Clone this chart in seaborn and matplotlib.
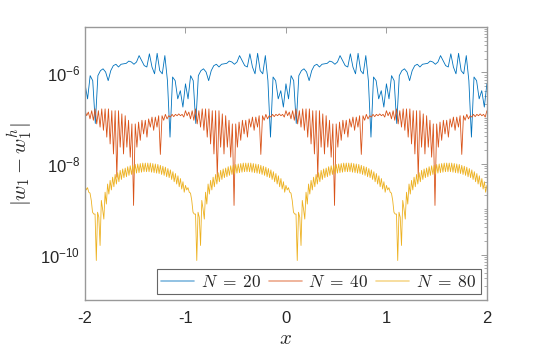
import matplotlib
matplotlib.use("Agg")
import matplotlib.pyplot as plt
import matplotlib.ticker as mticker
import seaborn as sns
import numpy as np
import pandas as pd

# log10 of the error over one period (x from -2 to -1);
# the reference repeats the same pattern with period 1 over [-2, 2]
period_n20 = [-6.25, -6.58, -6.07, -6.18, -7.12, -6.07, -5.96, -5.92, -5.99, -6.18,
              -5.96, -5.85, -5.82, -5.88, -5.82, -5.81, -5.80, -5.75, -5.77, -5.82,
              -5.77, -5.63, -5.74, -5.85, -5.88, -5.59, -5.88, -6.03, -5.58, -5.96,
              -6.03, -5.63, -6.18, -7.42, -6.10, -6.18, -6.58, -6.40, -6.76]

period_n40 = [-6.84, -6.95, -6.87, -7.02, -6.84, -7.05, -6.80, -7.13, -6.84, -7.20,
              -6.80, -7.27, -6.80, -7.42, -6.80, -7.57, -6.84, -7.79, -6.84, -8.30,
              -6.84, -7.64, -6.91, -7.79, -6.95, -7.64, -7.05, -7.86, -7.13, -8.92,
              -7.13, -7.64, -7.09, -7.49, -7.05, -7.35, -7.05, -7.42, -7.02, -7.20,
              -6.98, -7.27, -6.98, -7.20, -6.95, -7.80, -6.95, -7.05, -6.92, -7.02,
              -6.95, -6.98, -6.92, -6.97, -6.92, -6.95, -6.91, -6.95, -6.92, -6.98]

period_n80 = [-8.48, -8.58, -8.53, -8.63, -8.65, -8.81, -9.07, -9.11, -9.11, -10.13,
              -9.07, -9.18, -9.80, -8.81, -9.00, -9.22, -8.63, -8.89, -8.45, -8.67,
              -8.37, -8.58, -8.30, -8.51, -8.24, -8.45, -8.20, -8.40, -8.15, -8.35,
              -8.12, -8.31, -8.10, -8.29, -8.07, -8.26, -8.05, -8.24, -8.04, -8.23,
              -8.02, -8.21, -8.01, -8.20, -8.00, -8.19, -7.99, -8.18, -7.99, -8.18,
              -7.99, -8.18, -7.99, -8.19, -8.00, -8.20, -8.01, -8.21, -8.02, -8.22,
              -8.04, -8.24, -8.06, -8.26, -8.08, -8.29, -8.11, -8.31, -8.14, -8.35,
              -8.18, -8.40, -8.22, -8.45, -8.27, -8.51, -8.33, -8.56, -8.40, -8.63]

labels = [r"$N \;=\; 20$", r"$N \;=\; 40$", r"$N \;=\; 80$"]
colors = ["#0072BD", "#D95319", "#EDB120"]
n_periods = 4

frames = []
for lab, per in zip(labels, [period_n20, period_n40, period_n80]):
    vals = list(per) * n_periods + [per[0]]
    x = np.linspace(-2, 2, len(vals))
    frames.append(pd.DataFrame({"x": x, "err": 10.0 ** np.array(vals), "N": lab}))
df = pd.concat(frames, ignore_index=True)

sns.set_theme(style="white")
plt.rcParams["font.family"] = ["Liberation Sans", "DejaVu Sans"]
plt.rcParams["mathtext.fontset"] = "cm"
plt.rcParams["axes.unicode_minus"] = False

fig = plt.figure(figsize=(5.38, 3.59), dpi=100)
ax = fig.add_axes([0.158, 0.164, 0.747, 0.761])

sns.lineplot(data=df, x="x", y="err", hue="N", palette=colors, linewidth=0.6,
             estimator=None, sort=False, ax=ax)

ax.set_yscale("log")
ax.set_xlim(-2, 2)
ax.set_ylim(1e-11, 1e-5)
ax.set_xticks([-2, -1, 0, 1, 2])
ax.set_xticklabels(["-2", "-1", "0", "1", "2"])
ax.set_yticks([1e-10, 1e-8, 1e-6])
ax.set_yticklabels([r"$\mathdefault{10^{-10}}$", r"$\mathdefault{10^{-8}}$",
                    r"$\mathdefault{10^{-6}}$"])
ax.yaxis.set_minor_locator(mticker.LogLocator(base=10, subs=np.arange(1, 10), numticks=20))
ax.yaxis.set_minor_formatter(mticker.NullFormatter())

ax.tick_params(axis="both", which="both", direction="in", top=True, right=True,
               colors="0.55", labelcolor="0.15", labelsize=12)
ax.tick_params(axis="both", which="major", length=4, width=0.6)
ax.tick_params(axis="y", which="minor", length=2.5, width=0.5)
ax.tick_params(axis="x", which="major", pad=8)
for s in ax.spines.values():
    s.set_color("0.6")
    s.set_linewidth(1.0)

ax.set_xlabel("$x$", fontsize=15, color="0.15", labelpad=2)
ax.set_ylabel("$|w_1 - w_1^h|$", fontsize=15, color="0.15", labelpad=4)

handles, labs = ax.get_legend_handles_labels()
leg = ax.legend(handles, labs, ncol=3, loc="lower right", fontsize=12.5,
                handlelength=1.9, columnspacing=0.4, handletextpad=0.4,
                borderpad=0.25, borderaxespad=0.35, frameon=True, fancybox=False)
leg.get_frame().set_edgecolor("0.25")
leg.get_frame().set_linewidth(0.8)
for line in leg.get_lines():
    line.set_linewidth(1.2)
    line.set_alpha(0.5)

fig.savefig("out.png", dpi=100)
